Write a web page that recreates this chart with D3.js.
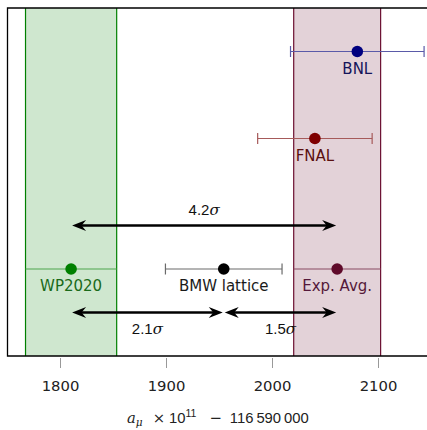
<!DOCTYPE html>
<html><head><meta charset="utf-8">
<script src="https://cdn.jsdelivr.net/npm/d3@7"></script>
<style>body{margin:0;background:#fff}svg{display:block}text{font-family:"DejaVu Sans",sans-serif}</style>
</head><body><svg id="c" width="427" height="430"></svg>
<script>
// ---- data ----
const labels = ["BNL", "FNAL", "WP2020", "BMW lattice", "Exp. Avg."];
const values = [2080, 2040, 1810, 1954, 2061];
const errors = [63, 54, 43, 55, 41];
const rows = [5, 3, 0, 0, 0];
const bandNames = ["WP2020", "Exp. Avg."];
const arrowFrom = [1810, 1810, 1954];
const arrowTo = [2061, 1954, 2061];
const arrowRows = [1, -1, -1];
const arrowLabels = ["4.2", "2.1", "1.5"];
const arrowLabelSide = ["above", "below", "below"];
const xTicks = [1800, 1900, 2000, 2100];

// ---- styles ----
const col = {
  "BNL": {pt: "#00007f", bar: "#5a5aa8", txt: "#15155a"},
  "FNAL": {pt: "#7f0000", bar: "#a65a5a", txt: "#5a0f0f"},
  "WP2020": {pt: "#008000", bar: "#4ea64e", txt: "#1a6a1a", band: "#008000"},
  "BMW lattice": {pt: "#000000", bar: "#6a6a6a", txt: "#1a1a1a"},
  "Exp. Avg.": {pt: "#5f0a2a", bar: "#8a4a62", txt: "#55193a", band: "#6b0f30"}
};
const digitFont = "Liberation Sans";

const svg = d3.select("#c");
const x = d3.scaleLinear().domain([1750, 2150]).range([7.5, 431.5]);
const y = d3.scaleLinear().domain([-2, 6]).range([356, 8]);

// bands
bandNames.forEach(n => {
  const i = labels.indexOf(n);
  const c = col[n].band;
  svg.append("rect")
    .attr("x", x(values[i] - errors[i])).attr("y", y(6))
    .attr("width", x(values[i] + errors[i]) - x(values[i] - errors[i]))
    .attr("height", y(-2) - y(6))
    .attr("fill", c).attr("fill-opacity", 0.19);
  [values[i] - errors[i], values[i] + errors[i]].forEach(v => {
    svg.append("line").attr("x1", x(v)).attr("x2", x(v)).attr("y1", y(6)).attr("y2", y(-2))
      .attr("stroke", c).attr("stroke-width", 1.2);
  });
});

// error bars & points
labels.forEach((n, i) => {
  const c = col[n], yy = y(rows[i]);
  const isBand = bandNames.includes(n);
  svg.append("line").attr("x1", x(values[i] - errors[i])).attr("x2", x(values[i] + errors[i]))
    .attr("y1", yy).attr("y2", yy).attr("stroke", c.bar).attr("stroke-width", 1.2);
  if (!isBand) {
    [values[i] - errors[i], values[i] + errors[i]].forEach(v => {
      svg.append("line").attr("x1", x(v)).attr("x2", x(v)).attr("y1", yy - 5.5).attr("y2", yy + 5.5)
        .attr("stroke", c.bar).attr("stroke-width", 1.2);
    });
  }
  svg.append("circle").attr("cx", x(values[i])).attr("cy", yy).attr("r", 5.8).attr("fill", c.pt);
  svg.append("text").attr("x", x(values[i])).attr("y", yy + 22).attr("text-anchor", "middle")
    .attr("font-size", 15).attr("fill", c.txt).attr("xml:space", "preserve")
    .text(n);
});

// arrows
const head = "M0,0 L-14,-5.5 L-9.5,0 L-14,5.5 Z";
arrowFrom.forEach((a, i) => {
  const x1 = x(a) + 1, x2 = x(arrowTo[i]) - 1, yy = y(arrowRows[i]);
  svg.append("line").attr("x1", x1 + 9).attr("x2", x2 - 9).attr("y1", yy).attr("y2", yy)
    .attr("stroke", "#000").attr("stroke-width", 2.6);
  svg.append("path").attr("d", head).attr("transform", `translate(${x2},${yy})`).attr("fill", "#000");
  svg.append("path").attr("d", head).attr("transform", `translate(${x1},${yy}) scale(-1,1)`).attr("fill", "#000");
  const t = svg.append("text").attr("x", x((a + arrowTo[i]) / 2))
    .attr("y", arrowLabelSide[i] === "above" ? yy - 11 : yy + 21.5)
    .attr("text-anchor", "middle").attr("font-size", 15).attr("fill", "#111");
  t.append("tspan").attr("font-family", digitFont).text(arrowLabels[i]);
  t.append("tspan").attr("font-family", "DejaVu Serif").attr("font-style", "italic").text("σ");
});

// frame
svg.append("path").attr("d", `M${x(2150)},${y(6)} H${x(1750)} V${y(-2)} H${x(2150)}`)
  .attr("fill", "none").attr("stroke", "#000").attr("stroke-width", 1.3);

// x ticks
const g = svg.append("g");
xTicks.forEach(t => {
  g.append("line").attr("x1", x(t)).attr("x2", x(t)).attr("y1", 358).attr("y2", 368)
    .attr("stroke", "#999").attr("stroke-width", 1);
  g.append("text").attr("x", x(t)).attr("y", 391).attr("text-anchor", "middle")
    .attr("font-family", digitFont).attr("font-size", 14.8).attr("fill", "#222").text(t);
});

// axis label
const lab = svg.append("text").attr("x", 127).attr("y", 423).attr("text-anchor", "start")
  .attr("font-size", 14.8).attr("fill", "#222");
lab.append("tspan").attr("font-family", "DejaVu Serif").attr("font-style", "italic").text("a");
lab.append("tspan").attr("font-family", "DejaVu Serif").attr("font-style", "italic").attr("font-size", 10.5).attr("dy", 2.5).text("μ");
lab.append("tspan").attr("dy", -2.5).attr("dx", 10).text("×");
lab.append("tspan").attr("font-family", digitFont).attr("dx", 4).text("10");
lab.append("tspan").attr("font-family", digitFont).attr("font-size", 10.5).attr("dy", -6).text("11");
lab.append("tspan").attr("dy", 6).attr("dx", 13).text("−");
lab.append("tspan").attr("font-family", digitFont).attr("dx", 8).text("116\u2009590\u2009000");
</script></body></html>
